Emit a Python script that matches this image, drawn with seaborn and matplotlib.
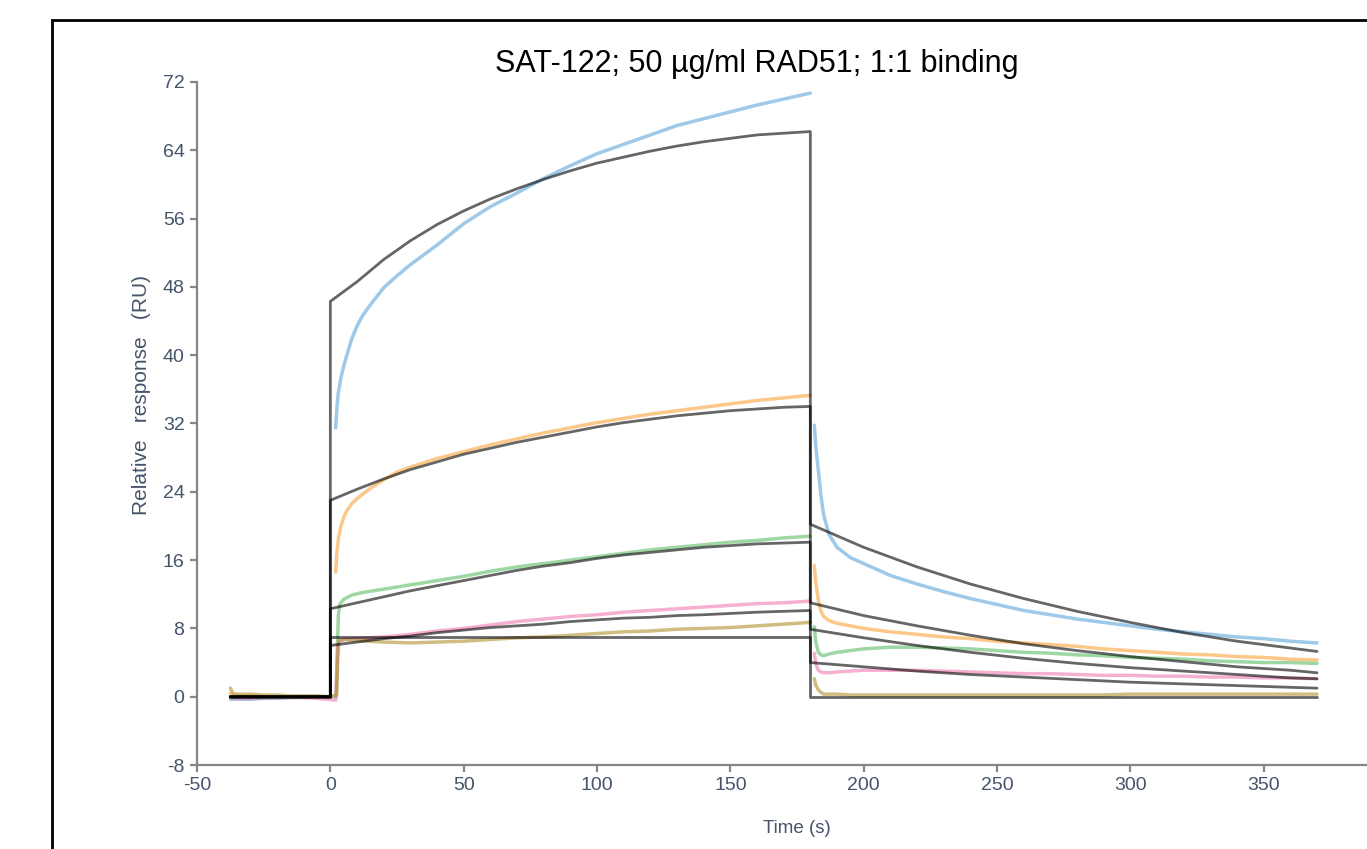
import numpy as np
import pandas as pd
import seaborn as sns
from matplotlib import pyplot as plt
from matplotlib.patches import Rectangle

# ---- data ----
t_base = [-37.5, -36.5, -35, -30, -25, -20, -15, -10, -5, -1]
base_blue = [-0.3, -0.3, -0.3, -0.3, -0.2, -0.2, -0.1, -0.1, 0.0, 0.0]
base_orange = [0.4, 0.2, 0.1, 0.1, 0.0, 0.0, 0.0, 0.0, 0.0, 0.0]
base_green = [0.0, -0.1, -0.1, -0.1, -0.1, 0.0, 0.0, 0.0, 0.0, 0.0]
base_pink = [-0.1, -0.1, -0.2, -0.2, -0.1, -0.1, -0.1, -0.1, -0.2, -0.3]
base_olive = [1.0, 0.4, 0.3, 0.3, 0.2, 0.2, 0.1, 0.1, 0.1, 0.0]

t_blue_a = [2, 2.5, 3, 4, 5, 6, 8, 10, 12, 15, 20, 25, 30, 40, 50, 60, 70, 80, 90,
            100, 110, 120, 130, 140, 150, 160, 170, 180]
blue_a = [31.5, 34.0, 35.6, 37.4, 38.7, 39.8, 41.9, 43.4, 44.6, 45.9, 47.9, 49.3, 50.6,
          52.9, 55.4, 57.4, 59.0, 60.7, 62.2, 63.6, 64.7, 65.8, 66.9, 67.7, 68.5, 69.3,
          70.0, 70.7]

t_orange_a = [2, 2.5, 3, 4, 5, 6, 8, 10, 12, 15, 20, 25, 30, 40, 50, 60, 70, 80, 90,
              100, 110, 120, 130, 140, 150, 160, 170, 180]
orange_a = [14.6, 17.0, 18.5, 20.0, 21.0, 21.7, 22.6, 23.2, 23.7, 24.4, 25.4, 26.3, 26.9,
            27.9, 28.7, 29.5, 30.2, 30.9, 31.5, 32.1, 32.6, 33.1, 33.5, 33.9, 34.3, 34.7,
            35.0, 35.3]

t_green_a = [2.2, 2.6, 3, 3.5, 5, 8, 12, 20, 30, 40, 50, 60, 70, 80, 90, 100, 110, 120,
             130, 140, 150, 160, 170, 180]
green_a = [0.0, 5.0, 9.5, 10.8, 11.4, 11.9, 12.2, 12.6, 13.1, 13.6, 14.1, 14.7, 15.2, 15.6,
           16.0, 16.4, 16.8, 17.2, 17.5, 17.8, 18.1, 18.3, 18.6, 18.8]

t_pink_a = [2, 2.4, 2.8, 3.5, 5, 10, 20, 30, 40, 50, 60, 70, 80, 90, 100, 110, 120, 130,
            140, 150, 160, 170, 180]
pink_a = [-0.4, 3.0, 6.0, 6.5, 6.7, 6.8, 7.0, 7.3, 7.7, 8.0, 8.4, 8.8, 9.1, 9.4, 9.6, 9.9,
          10.1, 10.3, 10.5, 10.7, 10.9, 11.0, 11.2]

t_olive_a = [2.4, 2.8, 3.2, 5, 10, 20, 30, 40, 50, 60, 70, 80, 90, 100, 110, 120, 130,
             140, 150, 160, 170, 180]
olive_a = [0.2, 4.5, 6.6, 6.7, 6.6, 6.4, 6.3, 6.4, 6.5, 6.7, 6.9, 7.0, 7.2, 7.4, 7.6, 7.7,
           7.9, 8.0, 8.1, 8.3, 8.5, 8.7]

t_diss = [181.5, 182, 183, 184, 185, 187, 190, 195, 200, 210, 220, 230, 240, 250, 260,
          270, 280, 290, 300, 310, 320, 330, 340, 350, 360, 370]
blue_d = [31.8, 29.5, 26.5, 23.5, 21.3, 19.0, 17.5, 16.3, 15.6, 14.2, 13.2, 12.3, 11.5,
          10.8, 10.1, 9.6, 9.1, 8.7, 8.3, 7.9, 7.6, 7.3, 7.0, 6.8, 6.5, 6.3]
orange_d = [15.4, 13.5, 11.3, 10.0, 9.4, 8.9, 8.6, 8.3, 8.0, 7.6, 7.3, 7.0, 6.8, 6.5, 6.3,
            6.1, 5.9, 5.6, 5.4, 5.2, 5.0, 4.9, 4.7, 4.6, 4.4, 4.3]
green_d = [8.2, 6.5, 5.2, 4.9, 4.8, 5.0, 5.2, 5.4, 5.6, 5.8, 5.8, 5.7, 5.6, 5.4, 5.2, 5.1,
           4.9, 4.8, 4.6, 4.5, 4.4, 4.2, 4.1, 4.0, 4.0, 3.9]
pink_d = [5.1, 3.9, 3.1, 2.9, 2.8, 2.8, 2.9, 3.0, 3.1, 3.1, 3.1, 3.0, 2.9, 2.8, 2.7, 2.7,
          2.6, 2.5, 2.5, 2.4, 2.4, 2.3, 2.3, 2.2, 2.2, 2.1]
olive_d = [2.1, 1.4, 0.8, 0.5, 0.3, 0.3, 0.3, 0.2, 0.2, 0.2, 0.2, 0.2, 0.2, 0.2, 0.2, 0.2,
           0.2, 0.2, 0.3, 0.3, 0.3, 0.3, 0.3, 0.3, 0.3, 0.3]

# 1:1 fits
t_fit_base = [-37.5, 0]
t_fit_a = [0, 10, 20, 30, 40, 50, 60, 70, 80, 90, 100, 110, 120, 130, 140, 150, 160, 170, 180]
fit1_a = [46.3, 48.6, 51.2, 53.4, 55.3, 56.9, 58.3, 59.5, 60.6, 61.6, 62.5, 63.2, 63.9,
          64.5, 65.0, 65.4, 65.8, 66.0, 66.2]
fit2_a = [23.0, 24.3, 25.5, 26.6, 27.5, 28.4, 29.1, 29.8, 30.4, 31.0, 31.6, 32.1, 32.5,
          32.9, 33.2, 33.5, 33.7, 33.9, 34.0]
fit3_a = [10.3, 11.0, 11.7, 12.4, 13.0, 13.6, 14.2, 14.8, 15.3, 15.7, 16.2, 16.6, 16.9,
          17.2, 17.5, 17.7, 17.9, 18.0, 18.1]
fit4_a = [6.0, 6.4, 6.8, 7.1, 7.5, 7.8, 8.1, 8.3, 8.5, 8.8, 9.0, 9.2, 9.3, 9.5, 9.6, 9.75,
          9.9, 10.0, 10.1]
fit5_a = [7.0] * 19
t_fit_d = [180, 200, 220, 240, 260, 280, 300, 320, 340, 360, 370]
fit1_d = [20.2, 17.5, 15.2, 13.2, 11.5, 10.0, 8.7, 7.5, 6.5, 5.7, 5.3]
fit2_d = [11.0, 9.5, 8.3, 7.2, 6.2, 5.4, 4.7, 4.1, 3.5, 3.1, 2.8]
fit3_d = [7.9, 6.9, 6.0, 5.2, 4.5, 3.9, 3.4, 3.0, 2.6, 2.2, 2.1]
fit4_d = [4.0, 3.5, 3.0, 2.6, 2.3, 2.0, 1.7, 1.5, 1.3, 1.1, 1.0]
fit5_d = [0.0] * 11


def segment(name, seg, t, v):
    return pd.DataFrame({'t': t, 'v': v, 'series': name, 'seg': seg})


# measured curves: separate segments so the injection gaps are not joined
curves = pd.concat([
    segment('blue', 'b0', t_base, base_blue),
    segment('blue', 'b1', t_blue_a, blue_a),
    segment('blue', 'b2', t_diss, blue_d),
    segment('orange', 'o0', t_base, base_orange),
    segment('orange', 'o1', t_orange_a, orange_a),
    segment('orange', 'o2', t_diss, orange_d),
    segment('green', 'g1', t_base + t_green_a, base_green + green_a),
    segment('green', 'g2', t_diss, green_d),
    segment('pink', 'p1', t_base + t_pink_a, base_pink + pink_a),
    segment('pink', 'p2', t_diss, pink_d),
    segment('olive', 'l1', t_base + t_olive_a, base_olive + olive_a),
    segment('olive', 'l2', t_diss, olive_d),
], ignore_index=True)

fits = []
for i, (fa, fd) in enumerate([(fit1_a, fit1_d), (fit2_a, fit2_d), (fit3_a, fit3_d),
                              (fit4_a, fit4_d), (fit5_a, fit5_d)]):
    fits.append(segment('fit', 'f%d' % i, t_fit_base + t_fit_a + t_fit_d, [0, 0] + fa + fd))
fits = pd.concat(fits, ignore_index=True)

palette = {'blue': '#5DA5DA', 'orange': '#FAA43A', 'green': '#60BD68',
           'pink': '#F17CB0', 'olive': '#B2912F'}

sns.set_theme(style='white')
plt.rcParams['font.family'] = ['Liberation Sans', 'DejaVu Sans']
plt.rcParams['axes.unicode_minus'] = False

fig = plt.figure(figsize=(13.67, 8.49), dpi=100)
ax = fig.add_axes([197 / 1367, 1 - 765 / 849, 1200 / 1367, 683 / 849])

sns.lineplot(data=curves, x='t', y='v', hue='series', units='seg', estimator=None,
             sort=False, palette=palette, alpha=0.6, lw=2.5, legend=False, ax=ax)
sns.lineplot(data=fits, x='t', y='v', units='seg', estimator=None, sort=False,
             color='black', alpha=0.6, lw=2.0, legend=False, ax=ax)

ax.set_xlim(-50, 400)
ax.set_ylim(-8, 72)
ax.set_xticks(np.arange(-50, 351, 50))
ax.set_yticks(np.arange(-8, 73, 8))
for s in ['top', 'right']:
    ax.spines[s].set_visible(False)
for s in ['left', 'bottom']:
    ax.spines[s].set_color('#868686')
    ax.spines[s].set_linewidth(1.6)
ax.tick_params(direction='out', length=5, width=1.6, color='#868686',
               labelcolor='#44546A', labelsize=14, pad=4,
               left=True, bottom=True)

ax.set_xlabel('Time (s)', fontsize=13.5, color='#44546A')
ax.set_ylabel('Relative   response   (RU)', fontsize=15, color='#44546A')
ax.xaxis.set_label_coords(0.5, -0.08)
ax.yaxis.set_label_coords(-0.038, 0.542)

fig.text(757 / 1367, 1 - 64 / 849, 'SAT-122; 50 µg/ml RAD51; 1:1 binding',
         ha='center', va='center', fontsize=22, color='black')

# outer frame of the original figure
fig.patches.append(Rectangle((52 / 1367, -0.1), 1.2, 1.1 - 20 / 849,
                             transform=fig.transFigure, fill=False,
                             ec='black', lw=2, zorder=10))

fig.savefig('out.png', dpi=100)
